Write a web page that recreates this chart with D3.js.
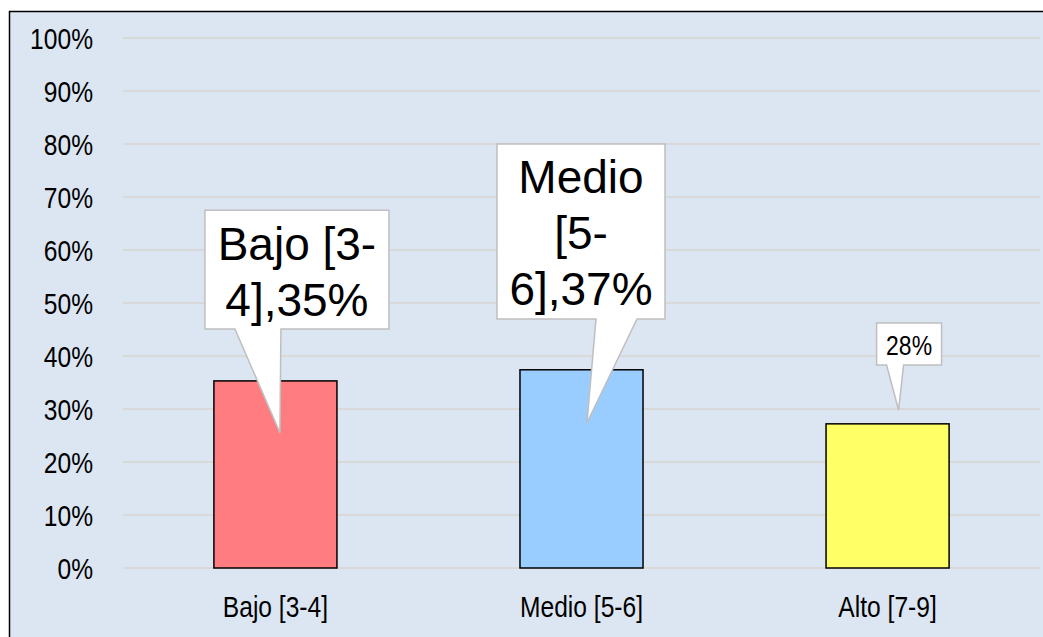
<!DOCTYPE html>
<html>
<head>
<meta charset="utf-8">
<script src="https://cdn.jsdelivr.net/npm/d3@7"></script>
<style>
  html, body { margin: 0; padding: 0; background: #ffffff; }
  svg { display: block; }
</style>
</head>
<body>
<svg id="chart" width="1043" height="637"></svg>
<script>
// ---- data ----
const categories = ["Bajo [3-4]", "Medio [5-6]", "Alto [7-9]"];
const values = [0.353, 0.374, 0.272];
const labelLines = [["Bajo [3-", "4],35%"], ["Medio", "[5-", "6],37%"], ["28%"]];
const yTicks = [0, 0.1, 0.2, 0.3, 0.4, 0.5, 0.6, 0.7, 0.8, 0.9, 1.0];
const barColors = ["#ff7c80", "#99ccff", "#ffff66"];

// ---- layout ----
const W = 1043, H = 637;
const plot = { left: 123, right: 1040, top: 38, bottom: 568 };
const narrow = 0.82;
// callout geometry (px relative to bar centre; y in value units)
const callouts = [
  { l: -70.5, r: 113.5, top: 0.675, bot: 0.451, b0: -40.5, b1: 5.5, tx: 4.5, ty: 0.255, big: true, lh: 56, first: 50 },
  { l: -84.5, r: 83.5, top: 0.800, bot: 0.470, b0: 14.5, b1: 55.5, tx: 5.5, ty: 0.274, big: true, lh: 56, first: 49 },
  { l: -11, r: 54, top: 0.4623, bot: 0.383, b0: -1, b1: 16, tx: 11, ty: 0.298, big: false, lh: 30, first: 32 }
];

const svg = d3.select("#chart");

// frame / plot background
svg.append("rect")
  .attr("x", 9.5).attr("y", 11.5)
  .attr("width", W + 20).attr("height", H + 20)
  .attr("fill", "#dce6f2")
  .attr("stroke", "#000").attr("stroke-width", 1.5);

const x = d3.scaleBand()
  .domain(categories)
  .range([plot.left, plot.right])
  .paddingInner(0.598)
  .paddingOuter(0.297);

const y = d3.scaleLinear().domain([0, 1]).range([plot.bottom, plot.top]);

// gridlines
svg.append("g")
  .selectAll("line")
  .data(yTicks)
  .join("line")
  .attr("x1", plot.left).attr("x2", plot.right)
  .attr("y1", d => y(d)).attr("y2", d => y(d))
  .attr("stroke", "#d9d9d9").attr("stroke-width", 2);

// y axis
const yAxis = svg.append("g")
  .attr("transform", `translate(${plot.left},0)`)
  .call(d3.axisLeft(y).tickValues(yTicks).tickFormat(d3.format(".0%")).tickSize(0));
yAxis.select(".domain").remove();
yAxis.selectAll("text")
  .attr("x", -30 / narrow)
  .attr("dy", "0.36em")
  .attr("transform", `scale(${narrow},1)`)
  .attr("font-family", "'Liberation Sans', Arial, sans-serif")
  .attr("font-size", 30)
  .attr("fill", "#000");

// x axis labels
const xAxis = svg.append("g")
  .attr("transform", `translate(0,${plot.bottom})`)
  .call(d3.axisBottom(x).tickSize(0));
xAxis.select(".domain").remove();
xAxis.selectAll(".tick text")
  .attr("y", 0).attr("dy", 0)
  .attr("transform", `translate(0,49) scale(${narrow},1)`)
  .attr("font-family", "'Liberation Sans', Arial, sans-serif")
  .attr("font-size", 30)
  .attr("fill", "#000");

// bars
svg.append("g")
  .selectAll("rect")
  .data(values)
  .join("rect")
  .attr("x", (d, i) => x(categories[i]))
  .attr("y", d => y(d))
  .attr("width", x.bandwidth())
  .attr("height", d => y(0) - y(d))
  .attr("fill", (d, i) => barColors[i])
  .attr("stroke", "#000").attr("stroke-width", 1.5);

// callouts
const cg = svg.append("g");
callouts.forEach((c, i) => {
  const cx = x(categories[i]) + x.bandwidth() / 2;
  const L = cx + c.l, R = cx + c.r, T = y(c.top), B = y(c.bot);
  const pts = [[L, T], [R, T], [R, B], [cx + c.b1, B], [cx + c.tx, y(c.ty)], [cx + c.b0, B], [L, B]];
  cg.append("path")
    .attr("d", d3.line()(pts) + "Z")
    .attr("fill", "#fff")
    .attr("stroke", "#bfbfbf").attr("stroke-width", 1.5)
    .attr("stroke-linejoin", "miter");
  const mid = (L + R) / 2;
  labelLines[i].forEach((line, j) => {
    const t = cg.append("text")
      .attr("text-anchor", "middle")
      .attr("font-family", "'Liberation Sans', Arial, sans-serif")
      .attr("fill", "#000")
      .text(line);
    if (c.big) {
      t.attr("x", mid).attr("y", T + c.first + j * c.lh).attr("font-size", 46);
    } else {
      t.attr("x", 0).attr("y", 0).attr("font-size", 28)
       .attr("transform", `translate(${mid},${T + c.first + j * c.lh}) scale(${narrow},1)`);
    }
  });
});
</script>
</body>
</html>
